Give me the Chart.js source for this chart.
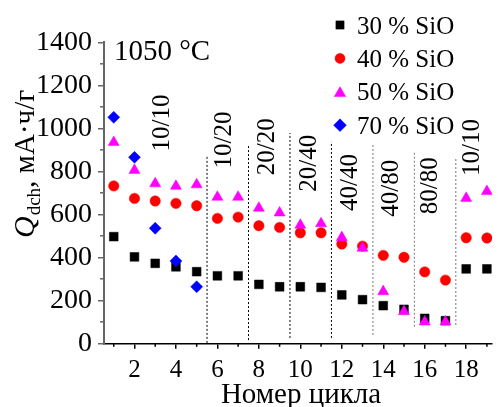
<!DOCTYPE html>
<html><head><meta charset="utf-8">
<script src="https://cdn.jsdelivr.net/npm/chart.js@4"></script>
<style>html,body{margin:0;padding:0;background:#fff}</style>
</head><body>
<canvas id="c" width="499" height="407"></canvas>
<script>
// ---- data ----
const cycles = [1,2,3,4,5,6,7,8,9,10,11,12,13,14,15,16,17,18,19];
const sio30 = [496, 402, 372, 356, 333, 314, 314, 274, 263, 263, 260, 225, 203, 175, 158, 116, 105, 346, 346];
const sio40 = [732, 674, 662, 651, 640, 581, 587, 547, 539, 514, 514, 462, 452, 409, 400, 332, 294, 491, 490];
const sio50 = [935, 805, 743, 731, 738, 680, 680, 629, 607, 550, 557, 492, 443, 241, 148, 100, 100, 675, 707];
const cycles70 = [1,2,3,4,5];
const sio70 = [1051, 865, 535, 383, 263];
const seriesNames = ['30 % SiO','40 % SiO','50 % SiO','70 % SiO'];
const xTickValues = [2,4,6,8,10,12,14,16,18];
const yTickValues = [0,200,400,600,800,1000,1200,1400];
// regime separators (dotted lines) and regime labels
const sepX = [5.5, 7.5, 9.5, 11.5, 13.5, 15.5, 17.5];
const sepTop = [876, 927, 978, 938, 932, 891, 857];
const sepBottom = [2, 15, 25, 25, 39, 77, 85];
const regimeLabels = ['10/10','10/20','20/20','20/40','40/40','40/80','80/80','10/10'];
const regimeX = [3.34, 6.36, 8.39, 10.46, 12.42, 14.4, 16.29, 18.3];
const regimeY = [1025, 946, 914, 837, 748, 721, 733, 911];
const tempLabel = '1050 °C';
const xTitle = 'Номер цикла';

const SERIF = '"Liberation Serif", "DejaVu Serif", serif';
Chart.defaults.font.family = SERIF;
Chart.defaults.color = '#000';

const pts = (xs, ys) => xs.map((x, i) => ({x, y: ys[i]}));

const seriesStyles = [
  {color:'#000000', pointStyle:'rect', radius:6.2},
  {color:'#ff0000', pointStyle:'circle', radius:5.2},
  {color:'#ff00ff', pointStyle:'triangle', radius:6.4},
  {color:'#0000ff', pointStyle:'rectRot', radius:6.0}
];
const seriesData = [pts(cycles, sio30), pts(cycles, sio40), pts(cycles, sio50), pts(cycles70, sio70)];

const datasets = [];
seriesData.forEach((d, i) => {
  const s = seriesStyles[i];
  datasets.push({
    label: seriesNames[i], data: d, showLine: false,
    pointStyle: s.pointStyle, pointRadius: s.radius, pointHoverRadius: s.radius,
    backgroundColor: s.color, borderColor: s.color, pointBorderWidth: 0.5,
    order: 3 - i
  });
});
sepX.forEach((x, i) => {
  datasets.push({
    type: 'line', label: 'sep' + i,
    data: [{x, y: sepBottom[i]}, {x, y: sepTop[i]}],
    borderColor: i < 4 ? '#000' : '#777', borderWidth: 1, borderDash: [2, 2],
    pointRadius: 0, fill: false, order: 10
  });
});

const overlay = {
  id: 'overlay',
  afterDraw(chart) {
    const ctx = chart.ctx, xs = chart.scales.x, ys = chart.scales.y;
    const ca = chart.chartArea;
    ctx.save();
    // minor ticks
    ctx.lineWidth = 1.5;
    ctx.strokeStyle = '#666';
    for (let v = 100; v < 1400; v += 200) {
      const y = ys.getPixelForValue(v);
      ctx.beginPath(); ctx.moveTo(ca.left - 1, y); ctx.lineTo(ca.left - 4, y); ctx.stroke();
    }
    ctx.strokeStyle = '#000';
    for (let v = 1; v <= 19; v += 2) {
      const x = xs.getPixelForValue(v);
      ctx.beginPath(); ctx.moveTo(x, ca.bottom); ctx.lineTo(x, ca.bottom + 3.5); ctx.stroke();
    }
    // regime labels (rotated)
    ctx.fillStyle = '#000';
    ctx.font = '25px ' + SERIF;
    ctx.textAlign = 'center'; ctx.textBaseline = 'middle';
    regimeLabels.forEach((t, i) => {
      ctx.save();
      ctx.translate(xs.getPixelForValue(regimeX[i]), ys.getPixelForValue(regimeY[i]));
      ctx.rotate(-Math.PI / 2);
      ctx.fillText(t, 0, 0);
      ctx.restore();
    });
    // temperature
    ctx.font = '29px ' + SERIF;
    ctx.textAlign = 'left'; ctx.textBaseline = 'alphabetic';
    ctx.fillText(tempLabel, 114, 60);
    // legend
    ctx.font = '25px ' + SERIF;
    seriesNames.forEach((n, i) => {
      const s = seriesStyles[i];
      const cy = 25 + i * 33.4;
      ctx.fillStyle = s.color; ctx.strokeStyle = s.color; ctx.lineWidth = 0.5;
      const r = s.pointStyle === 'rect' ? 5.8 : (s.pointStyle === 'circle' ? 5 : (s.pointStyle === 'triangle' ? 6.6 : 6.4));
      Chart.helpers.drawPoint(ctx, {pointStyle: s.pointStyle, radius: r, borderWidth: 0.5}, 340, cy + (s.pointStyle === 'triangle' ? 1.5 : 0));
      ctx.fillStyle = '#000';
      ctx.fillText(n, 357, cy + 8.5);
    });
    // x title
    ctx.font = '29px ' + SERIF;
    ctx.textAlign = 'center';
    ctx.fillText(xTitle, (ca.left + ca.right) / 2 + 3, 403);
    // y title with subscript
    ctx.save();
    ctx.translate(34, 238);
    ctx.rotate(-Math.PI / 2);
    ctx.textAlign = 'left';
    let x = 0;
    ctx.font = 'italic 30px ' + SERIF;
    ctx.fillText('Q', x, 0); x += ctx.measureText('Q').width + 1;
    ctx.font = '19px ' + SERIF;
    ctx.fillText('dch', x, 6); x += ctx.measureText('dch').width;
    ctx.font = '29px ' + SERIF;
    ctx.fillText(', мА·ч/г', x, 0);
    ctx.restore();
    ctx.restore();
  }
};

new Chart(document.getElementById('c'), {
  type: 'scatter',
  data: { datasets },
  options: {
    responsive: false, animation: false, devicePixelRatio: 1,
    layout: { padding: { top: 42.3, right: 0, bottom: 0, left: 0 } },
    plugins: { legend: { display: false }, tooltip: { enabled: false } },
    scales: {
      x: {
        type: 'linear', min: 0.53, max: 19.25,
        afterFit(s) { s.height = 63.7; },
        afterBuildTicks(s) { s.ticks = xTickValues.map(v => ({value: v})); },
        border: { display: true, color: '#000', width: 1.5 },
        grid: { display: true, drawOnChartArea: false, drawTicks: true, tickLength: 5.5, color: '#000', lineWidth: 1.5 },
        ticks: { font: { family: SERIF, size: 25 }, color: '#000', padding: 7, maxRotation: 0, autoSkip: false,
                 callback: v => String(v) }
      },
      y: {
        type: 'linear', min: 0, max: 1400,
        afterFit(s) { s.width = 104; },
        afterBuildTicks(s) { s.ticks = yTickValues.map(v => ({value: v})); },
        border: { display: true, color: '#666', width: 2 },
        grid: { display: true, drawOnChartArea: false, drawTicks: true, tickLength: 6, color: '#666', lineWidth: 1.5 },
        ticks: { font: { family: SERIF, size: 28 }, color: '#000', padding: 6, callback: v => String(v) }
      }
    }
  },
  plugins: [overlay]
});
</script>
</body></html>
